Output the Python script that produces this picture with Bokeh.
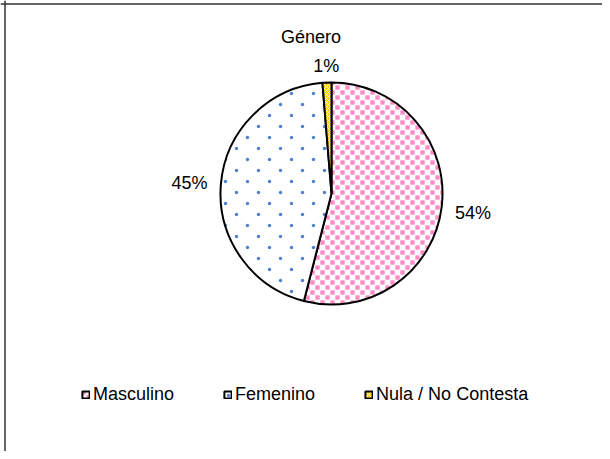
import math, base64
from bokeh.plotting import figure
from bokeh.models import (Range1d, Span, Legend, LegendItem, ColumnDataSource,
                          Label, ImageURLTexture)
from bokeh.embed import file_html
from bokeh.resources import INLINE

# ---- data ----
chart_title = "Género"
categories = ["Masculino", "Femenino", "Nula / No Contesta"]
values = [54.0, 44.7, 1.3]
pct_labels = ["54%", "45%", "1%"]

# ---- styles ----
fill_colors = ["#ffffff", "#ffffff", "#ffcc00"]
hatch_patterns = ["pinksq", "bluedot", "diagonal_cross"]
hatch_colors = ["#ff99cc", "#4a7bc8", "#ffffff"]
hatch_scales = [10, 22, 4]
hatch_weights = [1, 1, 1]


def svg_tile(size, body):
    s = (f"<svg xmlns='http://www.w3.org/2000/svg' width='{size}' height='{size}'>"
         f"{body}</svg>")
    return "data:image/svg+xml;base64," + base64.b64encode(s.encode()).decode()


textures = {
    "pinksq": ImageURLTexture(url=svg_tile(10,
        "<rect x='0.3' y='0.3' width='4.4' height='4.4' fill='#ff8cc6'/>"
        "<rect x='5.3' y='5.3' width='4.4' height='4.4' fill='#ff8cc6'/>")),
    "bluedot": ImageURLTexture(url=svg_tile(22,
        "<circle cx='5.5' cy='5.5' r='1.7' fill='#4f7fd0'/>"
        "<circle cx='16.5' cy='16.5' r='1.7' fill='#4f7fd0'/>")),
}

FONT = "Liberation Sans"
W, H = 602, 451

p = figure(width=W, height=H, output_backend="svg", toolbar_location=None,
           x_range=Range1d(0, W), y_range=Range1d(-H, 0), min_border=0)
p.axis.visible = False
p.grid.visible = False
p.outline_line_color = None
p.background_fill_color = "white"
p.border_fill_color = "white"

# pie geometry (pixel coordinates, y negated)
cx, cy, r = 331, -193, 111
total = sum(values)
starts, ends, mids = [], [], []
a = math.pi / 2
for v in values:
    da = 2 * math.pi * v / total
    starts.append(a)
    ends.append(a - da)
    mids.append(a - da / 2)
    a -= da

src = ColumnDataSource(dict(
    cat=categories, start=starts, end=ends, fill=fill_colors,
    hp=hatch_patterns, hc=hatch_colors, hs=hatch_scales, hw=hatch_weights,
))
wr = p.wedge(x=cx, y=cy, radius=r, start_angle="start", end_angle="end",
             direction="clock", source=src, fill_color="fill",
             hatch_pattern="hp", hatch_color="hc", hatch_scale="hs",
             hatch_weight="hw", hatch_extra=textures,
             line_color="black", line_width=2)

# percentage labels, centred on the slice's mid ray outside the pie
FS = 18
for lab, m in zip(pct_labels, mids):
    c, s = math.cos(m), math.sin(m)
    w = FS * (0.556 * (len(lab) - 1) + 0.889)
    d = r + 13 + abs(c) * w / 2 + abs(s) * 5.5
    p.add_layout(Label(x=cx + d * c, y=cy + d * s - 2, text=lab,
                       text_align="center", text_baseline="middle",
                       text_font=FONT, text_font_size=f"{FS}px",
                       text_color="black"))

# title
p.add_layout(Label(x=310.5, y=-36, text=chart_title, text_align="center",
                   text_baseline="middle", text_font=FONT,
                   text_font_size=f"{FS}px", text_color="black"))

# chart frame (left/top edges visible in the reference)
p.add_layout(Span(location=4.5, dimension="height", line_color="#333333", line_width=1.5))
p.add_layout(Span(location=-3.5, dimension="width", line_color="#333333", line_width=1.5))

legend = Legend(items=[LegendItem(label=c, renderers=[wr], index=i)
                       for i, c in enumerate(categories)],
                orientation="horizontal", location=(81, 46),
                padding=0, margin=0, spacing=49, label_standoff=3,
                glyph_width=9, glyph_height=9,
                label_text_font=FONT, label_text_font_size=f"{FS}px",
                label_text_color="black",
                border_line_alpha=0, background_fill_alpha=0)
p.add_layout(legend)

open("out.html", "w").write(file_html(p, INLINE))
